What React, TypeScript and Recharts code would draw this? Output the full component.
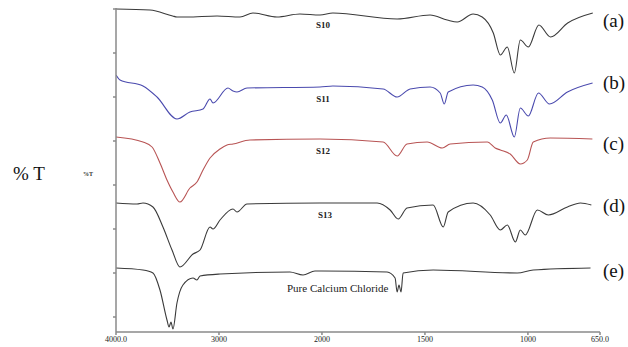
import { LineChart, Line, XAxis, YAxis } from "recharts";

// wavenumber (cm-1) / offset %T
const s10Wn = [4000, 3670, 3450, 3408, 3311, 3019, 2796, 2670, 2437, 2214, 2019, 1947, 1635, 1475, 1392, 1343, 1266, 1222, 1168, 1134, 1100, 1066, 1037, 998, 947, 890, 807, 685];
const s10T = [323, 322, 316, 315, 315, 316, 315, 319, 315, 318, 317, 319, 313, 317, 312, 310, 318, 315, 299, 277, 285, 259, 292, 285, 307, 295, 309, 319];

const s11Wn = [4000, 3961, 3738, 3602, 3408, 3282, 3155, 3087, 3058, 2913, 2864, 2825, 2728, 2019, 1947, 1703, 1635, 1572, 1475, 1426, 1406, 1387, 1266, 1222, 1173, 1134, 1105, 1066, 1037, 998, 949, 895, 808, 686];
const s11T = [257, 252, 246, 235, 213, 220, 223, 233, 229, 244, 241, 240, 244, 245, 246, 243, 235, 243, 245, 239, 228, 240, 247, 245, 232, 209, 217, 195, 224, 216, 239, 228, 240, 249];

const s12Wn = [4000, 3738, 3650, 3573, 3505, 3447, 3379, 3282, 3214, 3155, 3087, 2990, 2922, 2864, 2699, 2019, 1703, 1635, 1587, 1489, 1416, 1377, 1197, 1159, 1134, 1086, 1037, 1003, 974, 891, 687];
const s12T = [195, 190, 185, 169, 152, 140, 130, 144, 150, 162, 174, 183, 187, 188, 192, 193, 190, 176, 188, 190, 184, 188, 190, 184, 182, 178, 168, 172, 190, 194, 193];

const s13Wn = [4000, 3796, 3738, 3641, 3544, 3456, 3379, 3252, 3184, 3087, 3058, 2990, 2864, 2825, 2728, 2019, 1732, 1669, 1630, 1587, 1460, 1411, 1387, 1266, 1183, 1134, 1100, 1061, 1037, 1013, 954, 901, 808, 745, 692];
const s13T = [129, 128, 129, 125, 105, 82, 65, 78, 82, 105, 103, 112, 123, 120, 128, 129, 129, 122, 113, 124, 127, 105, 120, 129, 117, 102, 107, 90, 102, 97, 122, 117, 125, 129, 127];

const caWn = [4000, 3738, 3641, 3573, 3505, 3485, 3466, 3447, 3408, 3350, 3252, 3214, 3184, 2990, 2311, 2184, 2068, 2000, 1684, 1645, 1635, 1626, 1616, 1606, 1460, 1052, 974, 696];
const caT = [64, 62, 59, 42, 12, 5, 10, 3, 29, 47, 54, 52, 56, 58, 60, 57, 61, 61, 60, 54, 40, 47, 40, 59, 62, 59, 62, 64];

const xTickWn = [4000, 3000, 2000, 1500, 1000, 650];
const xTickLabels = ["4000.0", "3000", "2000", "1500", "1000", "650.0"];
const yTicks = [15, 37, 59, 81, 103, 125, 147, 169, 191, 213, 235, 257, 279, 301, 323];

// instrument scale: half compression above 2000 cm-1
const pos = (w: number) => (w >= 2000 ? (4000 - w) / 2 : 1000 + (2000 - w));
const toRows = (wn: number[], t: number[]) => wn.map((w, i) => ({ pos: pos(w), t: t[i] }));

const series = [
  { name: "S10", data: toRows(s10Wn, s10T), color: "#3a3a3a" },
  { name: "S11", data: toRows(s11Wn, s11T), color: "#4a4aae" },
  { name: "S12", data: toRows(s12Wn, s12T), color: "#b85454" },
  { name: "S13", data: toRows(s13Wn, s13T), color: "#3a3a3a" },
  { name: "CaCl2", data: toRows(caWn, caT), color: "#3a3a3a" },
];

const serif = "Liberation Serif, DejaVu Serif, serif";

export default function App() {
  return (
    <div style={{ position: "absolute", left: 0, top: 0, width: 628, height: 347, background: "#fff", fontFamily: serif }}>
      <LineChart width={628} height={347} margin={{ top: 8, right: 28, left: 110, bottom: 0 }} style={{ fontFamily: serif }}>
        <XAxis
          type="number"
          dataKey="pos"
          domain={[0, 2350]}
          ticks={xTickWn.map(pos)}
          tickFormatter={(v: number) => xTickLabels[xTickWn.map(pos).indexOf(v)]}
          height={15}
          tickSize={3}
          tickMargin={1}
          stroke="#8a8a8a"
          strokeWidth={1.5}
          tick={{ fontSize: 8, fill: "#222", style: { fontFamily: serif } }}
          allowDataOverflow
        />
        <YAxis
          type="number"
          domain={[0, 324]}
          ticks={yTicks}
          width={6}
          tickSize={3}
          stroke="#8a8a8a"
          strokeWidth={1.5}
          tick={() => <g />}
        />
        {series.map((s) => (
          <Line
            key={s.name}
            data={s.data}
            dataKey="t"
            type="monotone"
            stroke={s.color}
            strokeWidth={1.1}
            dot={false}
            isAnimationActive={false}
          />
        ))}
      </LineChart>
      <svg width={628} height={347} style={{ position: "absolute", left: 0, top: 0, pointerEvents: "none", fontFamily: serif }}>
        <g fill="#222" dominantBaseline="central">
          <text x={323} y={25} fontSize={9} fontWeight="bold" textAnchor="middle">S10</text>
          <text x={323} y={99} fontSize={9} fontWeight="bold" textAnchor="middle">S11</text>
          <text x={323} y={151} fontSize={9} fontWeight="bold" textAnchor="middle">S12</text>
          <text x={325} y={215} fontSize={9} fontWeight="bold" textAnchor="middle">S13</text>
          <text x={287} y={288} fontSize={11}>Pure Calcium Chloride</text>
        </g>
        <g fill="#111" fontSize={19} dominantBaseline="central">
          <text x={603} y={20}>(a)</text>
          <text x={603} y={82}>(b)</text>
          <text x={603} y={143}>(c)</text>
          <text x={603} y={205}>(d)</text>
          <text x={603} y={270}>(e)</text>
          <text x={13} y={173}>% T</text>
        </g>
        <text x={83} y={174} fontSize={6} fontWeight="bold" fill="#333" dominantBaseline="central">%T</text>
      </svg>
    </div>
  );
}
